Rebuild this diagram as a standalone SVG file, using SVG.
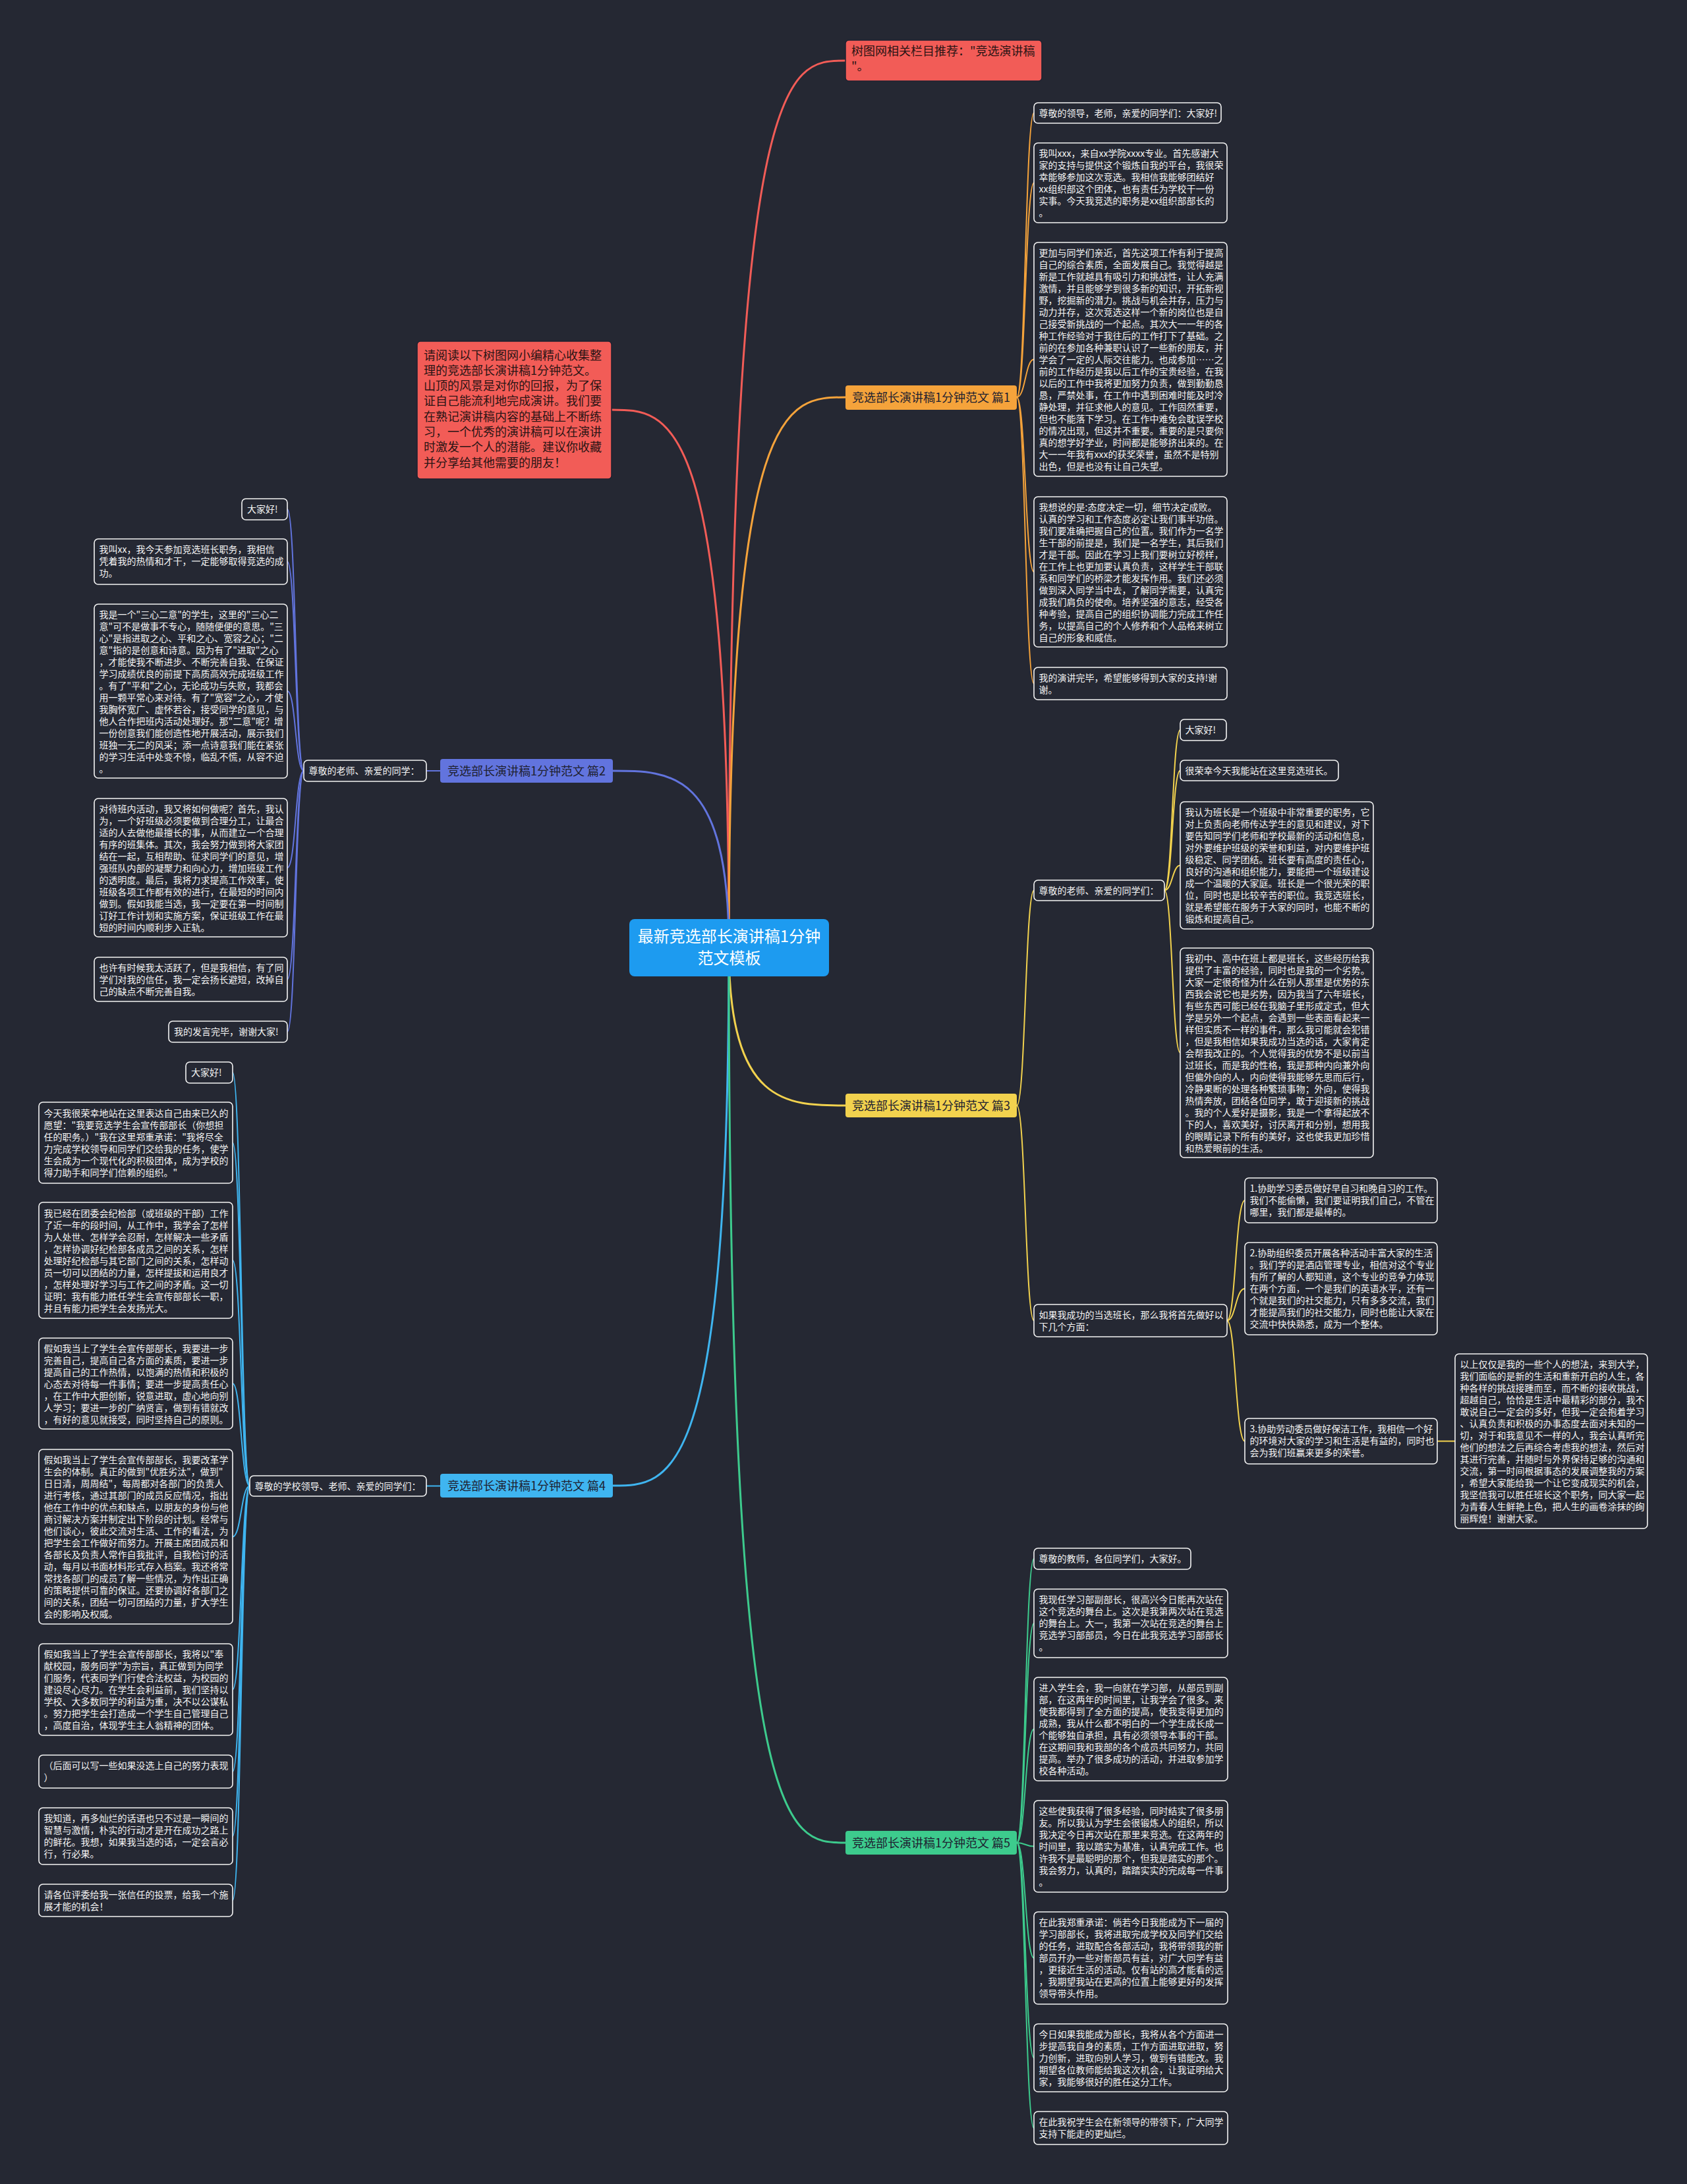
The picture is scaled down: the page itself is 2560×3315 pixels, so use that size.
<svg xmlns="http://www.w3.org/2000/svg" width="2560" height="3315" viewBox="0 0 2560 3315">
<style>
.bg{fill:#252833}
.leaf rect{fill:#252833;stroke:#f4f4f4;stroke-width:1.6}
.leaf text{font-family:"Noto Sans CJK SC","Noto Sans",sans-serif;font-size:14px;fill:#f4f4f4}
.br text{font-family:"Noto Sans CJK SC","Noto Sans",sans-serif;font-size:18px;fill:#1e2130;text-anchor:middle}
.red rect{fill:#f25c57;stroke:#1e2130;stroke-width:1.5}
.red text{font-family:"Noto Sans CJK SC","Noto Sans",sans-serif;font-size:18px;fill:#2a1414}
.ctr text{font-family:"Noto Sans CJK SC","Noto Sans",sans-serif;font-size:24px;fill:#ffffff;text-anchor:middle}
#connectors path{fill:none}
.m{stroke-width:3}
.s{stroke-width:2}
.cr{stroke:#f25c57}.co{stroke:#f5a33b}.cp{stroke:#6274de}.cy{stroke:#f2d24e}.cb{stroke:#3fb5f0}.cg{stroke:#3dcb8d}
</style>
<rect class="bg" x="0" y="0" width="2560" height="3315"/>
<g id="connectors">
<path class="m cr" d="M1106 1438 C1106 92 1194 92 1283 92"/>
<path class="m cr" d="M1106 1438 C1106 622 1017 622 928 622"/>
<path class="m co" d="M1106 1438 C1106 603 1194 603 1283 603"/>
<path class="m cp" d="M1106 1438 C1106 1170 1018 1170 930 1170"/>
<path class="m cy" d="M1106 1438 C1106 1678 1194 1678 1283 1678"/>
<path class="m cb" d="M1106 1438 C1106 2255 1018 2255 930 2255"/>
<path class="m cg" d="M1106 1438 C1106 2797 1194 2797 1283 2797"/>
<path class="s co" d="M1543 603 C1556 603 1556 171.5 1569 171.5"/>
<path class="s co" d="M1543 603 C1556 603 1556 277.5 1569 277.5"/>
<path class="s co" d="M1543 603 C1556 603 1556 545.5 1569 545.5"/>
<path class="s co" d="M1543 603 C1556 603 1556 868 1569 868"/>
<path class="s co" d="M1543 603 C1556 603 1556 1037.5 1569 1037.5"/>
<path class="s cp" d="M668 1170 L647 1170"/>
<path class="s cp" d="M461 1170 C448 1170 449 773 436 773"/>
<path class="s cp" d="M461 1170 C448 1170 449 852.5 436 852.5"/>
<path class="s cp" d="M461 1170 C448 1170 449 1049 436 1049"/>
<path class="s cp" d="M461 1170 C448 1170 449 1317 436 1317"/>
<path class="s cp" d="M461 1170 C448 1170 449 1486.5 436 1486.5"/>
<path class="s cp" d="M461 1170 C448 1170 449 1566 436 1566"/>
<path class="s cy" d="M1543 1678 C1556 1678 1556 1351.5 1569 1351.5"/>
<path class="s cy" d="M1543 1678 C1556 1678 1556 2004.5 1569 2004.5"/>
<path class="s cy" d="M1767 1351.5 C1779 1351.5 1779 1108 1791 1108"/>
<path class="s cy" d="M1767 1351.5 C1779 1351.5 1779 1169.5 1791 1169.5"/>
<path class="s cy" d="M1767 1351.5 C1779 1351.5 1779 1313.5 1791 1313.5"/>
<path class="s cy" d="M1767 1351.5 C1779 1351.5 1779 1598 1791 1598"/>
<path class="s cy" d="M1862 2004.5 C1875 2004.5 1875 1822 1889 1822"/>
<path class="s cy" d="M1862 2004.5 C1875 2004.5 1875 1956 1889 1956"/>
<path class="s cy" d="M1862 2004.5 C1875 2004.5 1875 2187.5 1889 2187.5"/>
<path class="s cy" d="M2181 2187.5 L2208 2187.5"/>
<path class="s cb" d="M668 2255.5 L647 2255.5"/>
<path class="s cb" d="M379 2255.5 C366 2255.5 366 1628 353 1628"/>
<path class="s cb" d="M379 2255.5 C366 2255.5 366 1734.5 353 1734.5"/>
<path class="s cb" d="M379 2255.5 C366 2255.5 366 1913 353 1913"/>
<path class="s cb" d="M379 2255.5 C366 2255.5 366 2100 353 2100"/>
<path class="s cb" d="M379 2255.5 C366 2255.5 366 2332.5 353 2332.5"/>
<path class="s cb" d="M379 2255.5 C366 2255.5 366 2564.5 353 2564.5"/>
<path class="s cb" d="M379 2255.5 C366 2255.5 366 2689 353 2689"/>
<path class="s cb" d="M379 2255.5 C366 2255.5 366 2787 353 2787"/>
<path class="s cb" d="M379 2255.5 C366 2255.5 366 2884.5 353 2884.5"/>
<path class="s cg" d="M1543 2797 C1556 2797 1556 2366 1569 2366"/>
<path class="s cg" d="M1543 2797 C1556 2797 1556 2464 1569 2464"/>
<path class="s cg" d="M1543 2797 C1556 2797 1556 2624.5 1569 2624.5"/>
<path class="s cg" d="M1543 2797 C1556 2797 1556 2802.5 1569 2802.5"/>
<path class="s cg" d="M1543 2797 C1556 2797 1556 2972 1569 2972"/>
<path class="s cg" d="M1543 2797 C1556 2797 1556 3123.5 1569 3123.5"/>
<path class="s cg" d="M1543 2797 C1556 2797 1556 3230 1569 3230"/>
</g>

<g id="center" class="ctr">
<rect x="955" y="1395" width="303" height="87" rx="8" fill="#1d9bf0"/>
<text x="1106.5" y="1429.5">最新竞选部长演讲稿1分钟</text>
<text x="1106.5" y="1462.5">范文模板</text>
</g>

<g id="red-top" class="red">
<rect x="1283" y="61" width="298" height="62" rx="5"/>
<text x="1292" y="84"><tspan x="1292" dy="0">树图网相关栏目推荐："竞选演讲稿</tspan><tspan x="1292" dy="23">"。</tspan></text>
</g>

<g id="red-left" class="red">
<rect x="633" y="518" width="295" height="209" rx="5"/>
<text x="643" y="545.5"><tspan x="643" dy="0">请阅读以下树图网小编精心收集整</tspan><tspan x="643" dy="23.3">理的竞选部长演讲稿1分钟范文。</tspan><tspan x="643" dy="23.3">山顶的风景是对你的回报，为了保</tspan><tspan x="643" dy="23.3">证自己能流利地完成演讲。我们要</tspan><tspan x="643" dy="23.3">在熟记演讲稿内容的基础上不断练</tspan><tspan x="643" dy="23.3">习，一个优秀的演讲稿可以在演讲</tspan><tspan x="643" dy="23.3">时激发一个人的潜能。建议你收藏</tspan><tspan x="643" dy="23.3">并分享给其他需要的朋友！</tspan></text>
</g>

<g id="b1" class="br"><rect x="1283" y="585" width="260" height="37" rx="4" fill="#f5a33b"/><text x="1413" y="610">竞选部长演讲稿1分钟范文 篇1</text></g>
<g id="b2" class="br"><rect x="668" y="1152" width="262" height="36" rx="4" fill="#6274de"/><text x="799" y="1176.5">竞选部长演讲稿1分钟范文 篇2</text></g>
<g id="b3" class="br"><rect x="1283" y="1660" width="260" height="36" rx="4" fill="#f2d24e"/><text x="1413" y="1684.5">竞选部长演讲稿1分钟范文 篇3</text></g>
<g id="b4" class="br"><rect x="668" y="2237" width="262" height="36" rx="4" fill="#3fb5f0"/><text x="799" y="2261.5">竞选部长演讲稿1分钟范文 篇4</text></g>
<g id="b5" class="br"><rect x="1283" y="2779" width="260" height="36" rx="4" fill="#3dcb8d"/><text x="1413" y="2803.5">竞选部长演讲稿1分钟范文 篇5</text></g>

<g id="n1-1" class="leaf"><rect x="1569" y="156" width="284" height="31" rx="6"/><text x="1576.5" y="176.5">尊敬的领导，老师，亲爱的同学们：大家好!</text></g>
<g id="n1-2" class="leaf"><rect x="1569" y="217" width="293" height="121" rx="6"/><text x="1576.5" y="237.5"><tspan x="1576.5" dy="0">我叫xxx，来自xx学院xxxx专业。首先感谢大</tspan><tspan x="1576.5" dy="18">家的支持与提供这个锻炼自我的平台，我很荣</tspan><tspan x="1576.5" dy="18">幸能够参加这次竞选。我相信我能够团结好</tspan><tspan x="1576.5" dy="18">xx组织部这个团体，也有责任为学校干一份</tspan><tspan x="1576.5" dy="18">实事。今天我竞选的职务是xx组织部部长的</tspan><tspan x="1576.5" dy="18">。</tspan></text></g>
<g id="n1-3" class="leaf"><rect x="1569" y="368" width="293" height="355" rx="6"/><text x="1576.5" y="388.5"><tspan x="1576.5" dy="0">更加与同学们亲近，首先这项工作有利于提高</tspan><tspan x="1576.5" dy="18">自己的综合素质，全面发展自己。我觉得越是</tspan><tspan x="1576.5" dy="18">新是工作就越具有吸引力和挑战性，让人充满</tspan><tspan x="1576.5" dy="18">激情，并且能够学到很多新的知识，开拓新视</tspan><tspan x="1576.5" dy="18">野，挖掘新的潜力。挑战与机会并存，压力与</tspan><tspan x="1576.5" dy="18">动力并存，这次竞选这样一个新的岗位也是自</tspan><tspan x="1576.5" dy="18">己接受新挑战的一个起点。其次大一一年的各</tspan><tspan x="1576.5" dy="18">种工作经验对于我往后的工作打下了基础。之</tspan><tspan x="1576.5" dy="18">前的在参加各种兼职认识了一些新的朋友，并</tspan><tspan x="1576.5" dy="18">学会了一定的人际交往能力。也成参加……之</tspan><tspan x="1576.5" dy="18">前的工作经历是我以后工作的宝贵经验，在我</tspan><tspan x="1576.5" dy="18">以后的工作中我将更加努力负责，做到勤勤恳</tspan><tspan x="1576.5" dy="18">恳，严禁处事，在工作中遇到困难时能及时冷</tspan><tspan x="1576.5" dy="18">静处理，并征求他人的意见。工作固然重要，</tspan><tspan x="1576.5" dy="18">但也不能落下学习。在工作中难免会耽误学校</tspan><tspan x="1576.5" dy="18">的情况出现，但这并不重要。重要的是只要你</tspan><tspan x="1576.5" dy="18">真的想学好学业，时间都是能够挤出来的。在</tspan><tspan x="1576.5" dy="18">大一一年我有xxx的获奖荣誉，虽然不是特别</tspan><tspan x="1576.5" dy="18">出色，但是也没有让自己失望。</tspan></text></g>
<g id="n1-4" class="leaf"><rect x="1569" y="754" width="293" height="228" rx="6"/><text x="1576.5" y="774.5"><tspan x="1576.5" dy="0">我想说的是:态度决定一切，细节决定成败。</tspan><tspan x="1576.5" dy="18">认真的学习和工作态度必定让我们事半功倍。</tspan><tspan x="1576.5" dy="18">我们要准确把握自己的位置。我们作为一名学</tspan><tspan x="1576.5" dy="18">生干部的前提是，我们是一名学生，其后我们</tspan><tspan x="1576.5" dy="18">才是干部。因此在学习上我们要树立好榜样，</tspan><tspan x="1576.5" dy="18">在工作上也更加要认真负责，这样学生干部联</tspan><tspan x="1576.5" dy="18">系和同学们的桥梁才能发挥作用。我们还必须</tspan><tspan x="1576.5" dy="18">做到深入同学当中去，了解同学需要，认真完</tspan><tspan x="1576.5" dy="18">成我们肩负的使命。培养坚强的意志，经受各</tspan><tspan x="1576.5" dy="18">种考验，提高自己的组织协调能力完成工作任</tspan><tspan x="1576.5" dy="18">务，以提高自己的个人修养和个人品格来树立</tspan><tspan x="1576.5" dy="18">自己的形象和威信。</tspan></text></g>
<g id="n1-5" class="leaf"><rect x="1569" y="1013" width="293" height="49" rx="6"/><text x="1576.5" y="1033.5"><tspan x="1576.5" dy="0">我的演讲完毕，希望能够得到大家的支持!谢</tspan><tspan x="1576.5" dy="18">谢。</tspan></text></g>

<g id="n2-0" class="leaf"><rect x="461" y="1154" width="186" height="32" rx="6"/><text x="468.5" y="1175">尊敬的老师、亲爱的同学：</text></g>
<g id="n2-1" class="leaf"><rect x="367" y="757" width="69" height="32" rx="6"/><text x="375" y="778">大家好!</text></g>
<g id="n2-2" class="leaf"><rect x="143" y="818" width="293" height="69" rx="6"/><text x="150.5" y="838.5"><tspan x="150.5" dy="0">我叫xx，我今天参加竞选班长职务，我相信</tspan><tspan x="150.5" dy="18">凭着我的热情和才干，一定能够取得竞选的成</tspan><tspan x="150.5" dy="18">功。</tspan></text></g>
<g id="n2-3" class="leaf"><rect x="143" y="917" width="293" height="264" rx="6"/><text x="150.5" y="937.5"><tspan x="150.5" dy="0">我是一个"三心二意"的学生，这里的"三心二</tspan><tspan x="150.5" dy="18">意"可不是做事不专心，随随便便的意思。"三</tspan><tspan x="150.5" dy="18">心"是指进取之心、平和之心、宽容之心；"二</tspan><tspan x="150.5" dy="18">意"指的是创意和诗意。因为有了"进取"之心</tspan><tspan x="150.5" dy="18">，才能使我不断进步、不断完善自我、在保证</tspan><tspan x="150.5" dy="18">学习成绩优良的前提下高质高效完成班级工作</tspan><tspan x="150.5" dy="18">。有了"平和"之心，无论成功与失败，我都会</tspan><tspan x="150.5" dy="18">用一颗平常心来对待。有了"宽容"之心，才使</tspan><tspan x="150.5" dy="18">我胸怀宽广、虚怀若谷，接受同学的意见，与</tspan><tspan x="150.5" dy="18">他人合作把班内活动处理好。那"二意"呢？增</tspan><tspan x="150.5" dy="18">一份创意我们能创造性地开展活动，展示我们</tspan><tspan x="150.5" dy="18">班独一无二的风采；添一点诗意我们能在紧张</tspan><tspan x="150.5" dy="18">的学习生活中处变不惊，临乱不慌，从容不迫</tspan><tspan x="150.5" dy="18">。</tspan></text></g>
<g id="n2-4" class="leaf"><rect x="143" y="1212" width="293" height="210" rx="6"/><text x="150.5" y="1232.5"><tspan x="150.5" dy="0">对待班内活动，我又将如何做呢？首先，我认</tspan><tspan x="150.5" dy="18">为，一个好班级必须要做到合理分工，让最合</tspan><tspan x="150.5" dy="18">适的人去做他最擅长的事，从而建立一个合理</tspan><tspan x="150.5" dy="18">有序的班集体。其次，我会努力做到将大家团</tspan><tspan x="150.5" dy="18">结在一起，互相帮助、征求同学们的意见，增</tspan><tspan x="150.5" dy="18">强班队内部的凝聚力和向心力，增加班级工作</tspan><tspan x="150.5" dy="18">的透明度。最后，我将力求提高工作效率，使</tspan><tspan x="150.5" dy="18">班级各项工作都有效的进行，在最短的时间内</tspan><tspan x="150.5" dy="18">做到。假如我能当选，我一定要在第一时间制</tspan><tspan x="150.5" dy="18">订好工作计划和实施方案，保证班级工作在最</tspan><tspan x="150.5" dy="18">短的时间内顺利步入正轨。</tspan></text></g>
<g id="n2-5" class="leaf"><rect x="143" y="1453" width="293" height="67" rx="6"/><text x="150.5" y="1473.5"><tspan x="150.5" dy="0">也许有时候我太活跃了，但是我相信，有了同</tspan><tspan x="150.5" dy="18">学们对我的信任，我一定会扬长避短，改掉自</tspan><tspan x="150.5" dy="18">己的缺点不断完善自我。</tspan></text></g>
<g id="n2-6" class="leaf"><rect x="256" y="1550" width="180" height="32" rx="6"/><text x="264" y="1571">我的发言完毕，谢谢大家!</text></g>

<g id="n3-0" class="leaf"><rect x="1569" y="1336" width="198" height="31" rx="6"/><text x="1576.5" y="1356.5">尊敬的老师、亲爱的同学们：</text></g>
<g id="n3-1" class="leaf"><rect x="1791" y="1092" width="70" height="32" rx="6"/><text x="1798.5" y="1113">大家好!</text></g>
<g id="n3-2" class="leaf"><rect x="1791" y="1154" width="240" height="31" rx="6"/><text x="1798.5" y="1174.5">很荣幸今天我能站在这里竞选班长。</text></g>
<g id="n3-3" class="leaf"><rect x="1791" y="1217" width="293" height="193" rx="6"/><text x="1798.5" y="1237.5"><tspan x="1798.5" dy="0">我认为班长是一个班级中非常重要的职务，它</tspan><tspan x="1798.5" dy="18">对上负责向老师传达学生的意见和建议，对下</tspan><tspan x="1798.5" dy="18">要告知同学们老师和学校最新的活动和信息，</tspan><tspan x="1798.5" dy="18">对外要维护班级的荣誉和利益，对内要维护班</tspan><tspan x="1798.5" dy="18">级稳定、同学团结。班长要有高度的责任心，</tspan><tspan x="1798.5" dy="18">良好的沟通和组织能力，要能把一个班级建设</tspan><tspan x="1798.5" dy="18">成一个温暖的大家庭。班长是一个很光荣的职</tspan><tspan x="1798.5" dy="18">位，同时也是比较辛苦的职位。我竞选班长，</tspan><tspan x="1798.5" dy="18">就是希望能在服务于大家的同时，也能不断的</tspan><tspan x="1798.5" dy="18">锻炼和提高自己。</tspan></text></g>
<g id="n3-4" class="leaf"><rect x="1791" y="1439" width="293" height="318" rx="6"/><text x="1798.5" y="1459.5"><tspan x="1798.5" dy="0">我初中、高中在班上都是班长，这些经历给我</tspan><tspan x="1798.5" dy="18">提供了丰富的经验，同时也是我的一个劣势。</tspan><tspan x="1798.5" dy="18">大家一定很奇怪为什么在别人那里是优势的东</tspan><tspan x="1798.5" dy="18">西我会说它也是劣势，因为我当了六年班长，</tspan><tspan x="1798.5" dy="18">有些东西可能已经在我脑子里形成定式，但大</tspan><tspan x="1798.5" dy="18">学是另外一个起点，会遇到一些表面看起来一</tspan><tspan x="1798.5" dy="18">样但实质不一样的事件，那么我可能就会犯错</tspan><tspan x="1798.5" dy="18">，但是我相信如果我成功当选的话，大家肯定</tspan><tspan x="1798.5" dy="18">会帮我改正的。个人觉得我的优势不是以前当</tspan><tspan x="1798.5" dy="18">过班长，而是我的性格，我是那种内向兼外向</tspan><tspan x="1798.5" dy="18">但偏外向的人，内向使得我能够先思而后行，</tspan><tspan x="1798.5" dy="18">冷静果断的处理各种繁琐事物；外向，使得我</tspan><tspan x="1798.5" dy="18">热情奔放，团结各位同学，敢于迎接新的挑战</tspan><tspan x="1798.5" dy="18">。我的个人爱好是摄影，我是一个拿得起放不</tspan><tspan x="1798.5" dy="18">下的人，喜欢美好，讨厌离开和分别，想用我</tspan><tspan x="1798.5" dy="18">的眼睛记录下所有的美好，这也使我更加珍惜</tspan><tspan x="1798.5" dy="18">和热爱眼前的生活。</tspan></text></g>
<g id="n3-5" class="leaf"><rect x="1569" y="1980" width="293" height="49" rx="6"/><text x="1576.5" y="2000.5"><tspan x="1576.5" dy="0">如果我成功的当选班长，那么我将首先做好以</tspan><tspan x="1576.5" dy="18">下几个方面：</tspan></text></g>
<g id="n3-6" class="leaf"><rect x="1889" y="1788" width="292" height="68" rx="6"/><text x="1896.5" y="1808.5"><tspan x="1896.5" dy="0">1.协助学习委员做好早自习和晚自习的工作。</tspan><tspan x="1896.5" dy="18">我们不能偷懒，我们要证明我们自己，不管在</tspan><tspan x="1896.5" dy="18">哪里，我们都是最棒的。</tspan></text></g>
<g id="n3-7" class="leaf"><rect x="1889" y="1886" width="292" height="140" rx="6"/><text x="1896.5" y="1906.5"><tspan x="1896.5" dy="0">2.协助组织委员开展各种活动丰富大家的生活</tspan><tspan x="1896.5" dy="18">。我们学的是酒店管理专业，相信对这个专业</tspan><tspan x="1896.5" dy="18">有所了解的人都知道，这个专业的竞争力体现</tspan><tspan x="1896.5" dy="18">在两个方面，一个是我们的英语水平，还有一</tspan><tspan x="1896.5" dy="18">个就是我们的社交能力，只有多多交流，我们</tspan><tspan x="1896.5" dy="18">才能提高我们的社交能力，同时也能让大家在</tspan><tspan x="1896.5" dy="18">交流中快快熟悉，成为一个整体。</tspan></text></g>
<g id="n3-8" class="leaf"><rect x="1889" y="2153" width="292" height="69" rx="6"/><text x="1896.5" y="2173.5"><tspan x="1896.5" dy="0">3.协助劳动委员做好保洁工作，我相信一个好</tspan><tspan x="1896.5" dy="18">的环境对大家的学习和生活是有益的，同时也</tspan><tspan x="1896.5" dy="18">会为我们班赢来更多的荣誉。</tspan></text></g>
<g id="n3-9" class="leaf"><rect x="2208" y="2055" width="292" height="265" rx="6"/><text x="2215.5" y="2075.5"><tspan x="2215.5" dy="0">以上仅仅是我的一些个人的想法，来到大学，</tspan><tspan x="2215.5" dy="18">我们面临的是新的生活和重新开启的人生，各</tspan><tspan x="2215.5" dy="18">种各样的挑战接踵而至，而不断的接收挑战，</tspan><tspan x="2215.5" dy="18">超越自己，恰恰是生活中最精彩的部分，我不</tspan><tspan x="2215.5" dy="18">敢说自己一定会的多好，但我一定会抱着学习</tspan><tspan x="2215.5" dy="18">、认真负责和积极的办事态度去面对未知的一</tspan><tspan x="2215.5" dy="18">切，对于和我意见不一样的人，我会认真听完</tspan><tspan x="2215.5" dy="18">他们的想法之后再综合考虑我的想法，然后对</tspan><tspan x="2215.5" dy="18">其进行完善，并随时与外界保持足够的沟通和</tspan><tspan x="2215.5" dy="18">交流，第一时间根据事态的发展调整我的方案</tspan><tspan x="2215.5" dy="18">，希望大家能给我一个让它变成现实的机会，</tspan><tspan x="2215.5" dy="18">我坚信我可以胜任班长这个职务，同大家一起</tspan><tspan x="2215.5" dy="18">为青春人生鲜艳上色，把人生的画卷涂抹的绚</tspan><tspan x="2215.5" dy="18">丽辉煌！谢谢大家。</tspan></text></g>

<g id="n4-0" class="leaf"><rect x="379" y="2240" width="268" height="31" rx="6"/><text x="386.5" y="2260.5">尊敬的学校领导、老师、亲爱的同学们：</text></g>
<g id="n4-1" class="leaf"><rect x="282" y="1612" width="71" height="32" rx="6"/><text x="290" y="1633">大家好!</text></g>
<g id="n4-2" class="leaf"><rect x="59" y="1673" width="294" height="123" rx="6"/><text x="66.5" y="1694.5"><tspan x="66.5" dy="0">今天我很荣幸地站在这里表达自己由来已久的</tspan><tspan x="66.5" dy="18">愿望："我要竞选学生会宣传部部长（你想担</tspan><tspan x="66.5" dy="18">任的职务。）"我在这里郑重承诺："我将尽全</tspan><tspan x="66.5" dy="18">力完成学校领导和同学们交给我的任务，使学</tspan><tspan x="66.5" dy="18">生会成为一个现代化的积极团体，成为学校的</tspan><tspan x="66.5" dy="18">得力助手和同学们信赖的组织。"</tspan></text></g>
<g id="n4-3" class="leaf"><rect x="59" y="1825" width="294" height="176" rx="6"/><text x="66.5" y="1846.5"><tspan x="66.5" dy="0">我已经在团委会纪检部（或班级的干部）工作</tspan><tspan x="66.5" dy="18">了近一年的段时间，从工作中，我学会了怎样</tspan><tspan x="66.5" dy="18">为人处世、怎样学会忍耐，怎样解决一些矛盾</tspan><tspan x="66.5" dy="18">，怎样协调好纪检部各成员之间的关系，怎样</tspan><tspan x="66.5" dy="18">处理好纪检部与其它部门之间的关系，怎样动</tspan><tspan x="66.5" dy="18">员一切可以团结的力量，怎样提拔和运用良才</tspan><tspan x="66.5" dy="18">，怎样处理好学习与工作之间的矛盾。这一切</tspan><tspan x="66.5" dy="18">证明：我有能力胜任学生会宣传部部长一职，</tspan><tspan x="66.5" dy="18">并且有能力把学生会发扬光大。</tspan></text></g>
<g id="n4-4" class="leaf"><rect x="59" y="2031" width="294" height="138" rx="6"/><text x="66.5" y="2051.5"><tspan x="66.5" dy="0">假如我当上了学生会宣传部部长，我要进一步</tspan><tspan x="66.5" dy="18">完善自己，提高自己各方面的素质，要进一步</tspan><tspan x="66.5" dy="18">提高自己的工作热情，以饱满的热情和积极的</tspan><tspan x="66.5" dy="18">心态去对待每一件事情；要进一步提高责任心</tspan><tspan x="66.5" dy="18">，在工作中大胆创新，锐意进取，虚心地向别</tspan><tspan x="66.5" dy="18">人学习；要进一步的广纳贤言，做到有错就改</tspan><tspan x="66.5" dy="18">，有好的意见就接受，同时坚持自己的原则。</tspan></text></g>
<g id="n4-5" class="leaf"><rect x="59" y="2200" width="294" height="265" rx="6"/><text x="66.5" y="2220.5"><tspan x="66.5" dy="0">假如我当上了学生会宣传部部长，我要改革学</tspan><tspan x="66.5" dy="18">生会的体制。真正的做到"优胜劣汰"，做到"</tspan><tspan x="66.5" dy="18">日日清，周周结"，每周都对各部门的负责人</tspan><tspan x="66.5" dy="18">进行考核，通过其部门的成员反应情况，指出</tspan><tspan x="66.5" dy="18">他在工作中的优点和缺点，以朋友的身份与他</tspan><tspan x="66.5" dy="18">商讨解决方案并制定出下阶段的计划。经常与</tspan><tspan x="66.5" dy="18">他们谈心，彼此交流对生活、工作的看法，为</tspan><tspan x="66.5" dy="18">把学生会工作做好而努力。开展主席团成员和</tspan><tspan x="66.5" dy="18">各部长及负责人常作自我批评，自我检讨的活</tspan><tspan x="66.5" dy="18">动，每月以书面材料形式存入档案。我还将常</tspan><tspan x="66.5" dy="18">常找各部门的成员了解一些情况，为作出正确</tspan><tspan x="66.5" dy="18">的策略提供可靠的保证。还要协调好各部门之</tspan><tspan x="66.5" dy="18">间的关系，团结一切可团结的力量，扩大学生</tspan><tspan x="66.5" dy="18">会的影响及权威。</tspan></text></g>
<g id="n4-6" class="leaf"><rect x="59" y="2495" width="294" height="139" rx="6"/><text x="66.5" y="2515.5"><tspan x="66.5" dy="0">假如我当上了学生会宣传部部长，我将以"奉</tspan><tspan x="66.5" dy="18">献校园，服务同学"为宗旨，真正做到为同学</tspan><tspan x="66.5" dy="18">们服务，代表同学们行使合法权益，为校园的</tspan><tspan x="66.5" dy="18">建设尽心尽力。在学生会利益前，我们坚持以</tspan><tspan x="66.5" dy="18">学校、大多数同学的利益为重，决不以公谋私</tspan><tspan x="66.5" dy="18">。努力把学生会打造成一个学生自己管理自己</tspan><tspan x="66.5" dy="18">，高度自治，体现学生主人翁精神的团体。</tspan></text></g>
<g id="n4-7" class="leaf"><rect x="59" y="2664" width="294" height="50" rx="6"/><text x="66.5" y="2684.5"><tspan x="66.5" dy="0">（后面可以写一些如果没选上自己的努力表现</tspan><tspan x="66.5" dy="18">）</tspan></text></g>
<g id="n4-8" class="leaf"><rect x="59" y="2744" width="294" height="86" rx="6"/><text x="66.5" y="2764.5"><tspan x="66.5" dy="0">我知道，再多灿烂的话语也只不过是一瞬间的</tspan><tspan x="66.5" dy="18">智慧与激情，朴实的行动才是开在成功之路上</tspan><tspan x="66.5" dy="18">的鲜花。我想，如果我当选的话，一定会言必</tspan><tspan x="66.5" dy="18">行，行必果。</tspan></text></g>
<g id="n4-9" class="leaf"><rect x="59" y="2860" width="294" height="49" rx="6"/><text x="66.5" y="2880.5"><tspan x="66.5" dy="0">请各位评委给我一张信任的投票，给我一个施</tspan><tspan x="66.5" dy="18">展才能的机会！</tspan></text></g>

<g id="n5-1" class="leaf"><rect x="1569" y="2350" width="238" height="32" rx="6"/><text x="1576.5" y="2371">尊敬的教师，各位同学们，大家好。</text></g>
<g id="n5-2" class="leaf"><rect x="1569" y="2412" width="294" height="104" rx="6"/><text x="1576.5" y="2432.5"><tspan x="1576.5" dy="0">我现任学习部副部长，很高兴今日能再次站在</tspan><tspan x="1576.5" dy="18">这个竞选的舞台上。这次是我第两次站在竞选</tspan><tspan x="1576.5" dy="18">的舞台上。大一，我第一次站在竞选的舞台上</tspan><tspan x="1576.5" dy="18">竞选学习部部员，今日在此我竞选学习部部长</tspan><tspan x="1576.5" dy="18">。</tspan></text></g>
<g id="n5-3" class="leaf"><rect x="1569" y="2546" width="294" height="157" rx="6"/><text x="1576.5" y="2566.5"><tspan x="1576.5" dy="0">进入学生会，我一向就在学习部，从部员到副</tspan><tspan x="1576.5" dy="18">部，在这两年的时间里，让我学会了很多。来</tspan><tspan x="1576.5" dy="18">使我都得到了全方面的提高，使我变得更加的</tspan><tspan x="1576.5" dy="18">成熟，我从什么都不明白的一个学生成长成一</tspan><tspan x="1576.5" dy="18">个能够独自承担，具有必须领导本事的干部。</tspan><tspan x="1576.5" dy="18">在这期间我和我部的各个成员共同努力，共同</tspan><tspan x="1576.5" dy="18">提高。举办了很多成功的活动，并进取参加学</tspan><tspan x="1576.5" dy="18">校各种活动。</tspan></text></g>
<g id="n5-4" class="leaf"><rect x="1569" y="2733" width="294" height="139" rx="6"/><text x="1576.5" y="2753.5"><tspan x="1576.5" dy="0">这些使我获得了很多经验，同时结实了很多朋</tspan><tspan x="1576.5" dy="18">友。所以我认为学生会很锻炼人的组织，所以</tspan><tspan x="1576.5" dy="18">我决定今日再次站在那里来竞选。在这两年的</tspan><tspan x="1576.5" dy="18">时间里，我以踏实为基准，认真完成工作。也</tspan><tspan x="1576.5" dy="18">许我不是最聪明的那个，但我是踏实的那个。</tspan><tspan x="1576.5" dy="18">我会努力，认真的，踏踏实实的完成每一件事</tspan><tspan x="1576.5" dy="18">。</tspan></text></g>
<g id="n5-5" class="leaf"><rect x="1569" y="2902" width="294" height="140" rx="6"/><text x="1576.5" y="2922.5"><tspan x="1576.5" dy="0">在此我郑重承诺：倘若今日我能成为下一届的</tspan><tspan x="1576.5" dy="18">学习部部长，我将进取完成学校及同学们交给</tspan><tspan x="1576.5" dy="18">的任务，进取配合各部活动，我将带领我的新</tspan><tspan x="1576.5" dy="18">部员开办一些对新部员有益，对广大同学有益</tspan><tspan x="1576.5" dy="18">，更接近生活的活动。仅有站的高才能看的远</tspan><tspan x="1576.5" dy="18">，我期望我站在更高的位置上能够更好的发挥</tspan><tspan x="1576.5" dy="18">领导带头作用。</tspan></text></g>
<g id="n5-6" class="leaf"><rect x="1569" y="3072" width="294" height="103" rx="6"/><text x="1576.5" y="3092.5"><tspan x="1576.5" dy="0">今日如果我能成为部长，我将从各个方面进一</tspan><tspan x="1576.5" dy="18">步提高我自身的素质，工作方面进取进取，努</tspan><tspan x="1576.5" dy="18">力创新，进取向别人学习，做到有错能改。我</tspan><tspan x="1576.5" dy="18">期望各位教师能给我这次机会，让我证明给大</tspan><tspan x="1576.5" dy="18">家，我能够很好的胜任这分工作。</tspan></text></g>
<g id="n5-7" class="leaf"><rect x="1569" y="3205" width="294" height="50" rx="6"/><text x="1576.5" y="3225.5"><tspan x="1576.5" dy="0">在此我祝学生会在新领导的带领下，广大同学</tspan><tspan x="1576.5" dy="18">支持下能走的更灿烂。</tspan></text></g>
</svg>
